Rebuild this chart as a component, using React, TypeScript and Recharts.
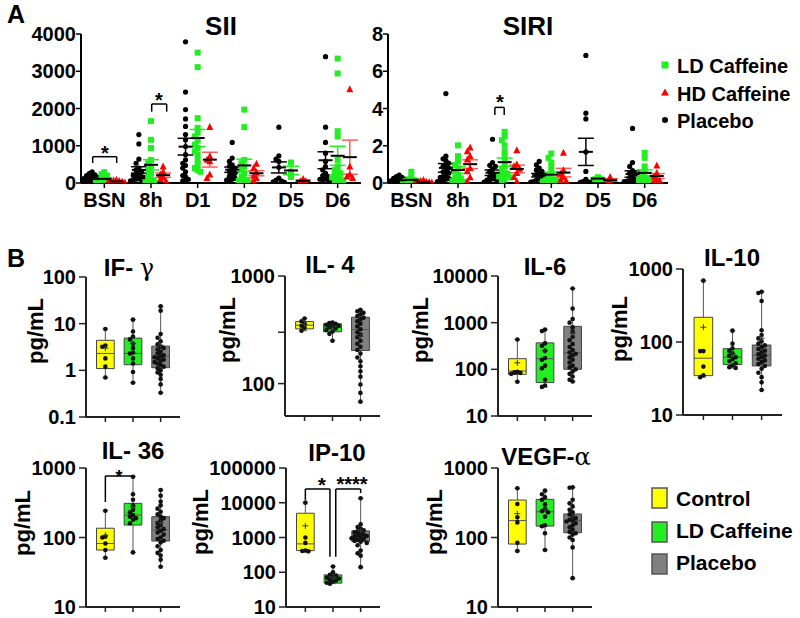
import React from 'react';
import { ScatterChart, Scatter, XAxis, YAxis, ErrorBar, ReferenceLine, ReferenceArea } from 'recharts';

const FONT = '"Liberation Sans", Arial, Helvetica, sans-serif';
const GREEN = '#22ee22';
const RED = '#ff0000';
const YELLOW = '#ffff00';
const GRAY = '#808080';
const AXIS = '#222';

// ---------- panel A: per-timepoint values ----------
const timepoints = ['BSN', '8h', 'D1', 'D2', 'D5', 'D6'];

const siiPlacebo = [
  [300, 260, 220, 200, 180, 150, 130, 120, 100, 90, 80, 70, 60, 50, 40, 30, 20, 15, 10, 5],
  [1300, 1050, 640, 530, 400, 350, 300, 260, 220, 200, 170, 150, 120, 100, 80, 60, 40],
  [3790, 2440, 1970, 1720, 1520, 1300, 1160, 980, 760, 620, 530, 470, 400, 300, 200, 170, 100, 60, 50],
  [1090, 670, 580, 490, 450, 400, 350, 300, 260, 220, 180, 130, 100, 80, 50],
  [1500, 730, 640, 580, 420, 130, 80, 50, 30, 20],
  [3390, 1500, 1090, 800, 580, 440, 350, 260, 200, 170, 120, 100, 80, 50, 30],
];
const siiLD = [
  [290, 240, 200, 150, 100, 80, 60, 40, 30, 20, 10],
  [1660, 1160, 940, 620, 530, 440, 350, 260, 170, 100, 60, 40, 20],
  [3500, 3110, 1740, 1480, 1360, 1250, 1140, 1030, 940, 850, 760, 620, 490, 400, 350, 300],
  [1970, 1500, 620, 530, 440, 350, 260, 170, 100, 80, 60, 30, 20],
  [550, 300, 160],
  [3340, 2940, 1390, 1250, 620, 440, 350, 300, 260, 200, 170, 150, 100, 80, 60, 40],
];
const siiHD = [
  [80, 60, 50, 40, 30, 20, 10],
  [440, 300, 220, 150, 100, 50],
  [1500, 710, 620, 580, 220, 130],
  [510, 400, 280, 190, 130, 60],
  [100, 40, 40],
  [2510, 440, 220, 170, 130],
];

const siriPlacebo = [
  [0.42, 0.35, 0.3, 0.25, 0.2, 0.15, 0.12, 0.1, 0.08, 0.06, 0.05, 0.04, 0.03, 0.02, 0.01],
  [4.8, 1.44, 1.3, 1.2, 1.07, 0.95, 0.89, 0.8, 0.71, 0.6, 0.53, 0.45, 0.35, 0.3, 0.25, 0.2, 0.16, 0.1, 0.07, 0.05],
  [2.35, 1.1, 0.95, 0.89, 0.75, 0.62, 0.5, 0.44, 0.35, 0.25, 0.2, 0.15, 0.1, 0.07, 0.05, 0.05],
  [1.16, 0.98, 0.8, 0.7, 0.62, 0.5, 0.44, 0.35, 0.25, 0.15, 0.1, 0.08, 0.07, 0.05, 0.05],
  [6.85, 3.75, 3.44, 1.67, 0.62, 0.2, 0.07, 0.05, 0.04, 0.03],
  [2.93, 1.1, 0.89, 0.67, 0.55, 0.49, 0.4, 0.31, 0.2, 0.16, 0.1, 0.1, 0.08, 0.07, 0.05, 0.05, 0.03],
];
const siriLD = [
  [0.6, 0.3, 0.2, 0.15, 0.1, 0.08, 0.05, 0.03, 0.02],
  [2.02, 1.44, 1.16, 0.98, 0.8, 0.62, 0.44, 0.3, 0.25, 0.15, 0.1, 0.07],
  [2.75, 2.5, 2.3, 2.02, 1.7, 1.44, 1.16, 0.89, 0.71, 0.53, 0.5, 0.4, 0.35, 0.3, 0.2, 0.16],
  [1.58, 1.35, 1.1, 0.85, 0.56, 0.35, 0.2, 0.16, 0.15, 0.1, 0.1, 0.08, 0.05, 0.05, 0.03],
  [0.31, 0.2, 0.2],
  [1.62, 1.35, 0.89, 0.62, 0.44, 0.3, 0.25, 0.2, 0.16, 0.1, 0.05],
];
const siriHD = [
  [0.15, 0.1, 0.05, 0.04, 0.03, 0.02, 0.01],
  [1.9, 1.7, 1.44, 1.25, 0.8, 0.62, 0.3, 0.07],
  [1.75, 0.98, 0.89, 0.75, 0.53, 0.31, 0.07],
  [1.62, 0.67, 0.49, 0.31, 0.16, 0.1],
  [0.31, 0.07, 0.07],
  [0.93, 0.53, 0.35, 0.2, 0.13, 0.1],
];

// significance brackets: [xLeft, xRight, yTop, yLeftEnd, yRightEnd]
const siiBrackets = [[0.75, 1.265, 706, 537, 537], [2.015, 2.336, 2121, 1914, 1914]];
const siriBrackets = [[2.79, 2.99, 4.06, 3.65, 3.65]];

// ---------- panel B: cytokines (Control, LD Caffeine, Placebo) ----------
const ifgControl = [7.7, 3.4, 3.2, 1.8, 1.2, 0.7];
const ifgLD = [12.2, 6.8, 5.3, 4.6, 3.7, 3.0, 2.4, 2.3, 1.8, 1.4, 0.92, 0.54];
const ifgPlacebo = [23.5, 19, 6, 5, 4.2, 3.6, 3.2, 3, 2.8, 2.5, 2.3, 2.1, 2, 1.9, 1.8, 1.7, 1.6, 1.5, 1.4, 1.3, 1.2, 1.1, 1.0, 0.9, 0.8, 0.65, 0.5, 0.33];
const ifgQuart = [[1.09, 2.3, 4.4], [1.32, 2.3, 4.9], [1.14, 2.0, 3.3]];

const il4Control = [403, 380, 360, 345, 330, 310];
const il4LD = [370, 365, 360, 352, 345, 340, 333, 325, 315, 305, 290, 250];
const il4Placebo = [484, 470, 455, 440, 425, 410, 395, 380, 360, 340, 320, 300, 285, 270, 250, 235, 220, 205, 190, 175, 161, 145, 130, 116, 98, 82, 68];
const il4Quart = [[323, 349, 377], [303, 333, 360], [203, 318, 414]];

const il6Control = [435, 88, 86, 84, 80, 54];
const il6LD = [710, 660, 360, 320, 250, 175, 160, 120, 105, 60, 45, 42];
const il6Placebo = [5400, 2000, 1200, 1000, 800, 650, 500, 420, 350, 300, 260, 230, 215, 200, 180, 160, 140, 120, 110, 100, 90, 80, 70, 60, 55];
const il6Quart = [[78, 92, 169], [52, 169, 369], [100, 226, 835]];

const il10Control = [692, 75, 75, 46, 35, 33];
const il10LD = [143, 95, 82, 76, 70, 65, 62, 58, 55, 51, 48, 45, 44];
const il10Placebo = [489, 470, 364, 145, 125, 112, 102, 95, 90, 85, 80, 76, 72, 68, 65, 62, 59, 56, 53, 50, 47, 43, 38, 33, 28, 22];
const il10Quart = [[34.6, 60, 218], [49, 62, 81], [47, 66, 91]];

const il36Control = [243, 103, 100, 82, 66, 51];
const il36LD = [750, 420, 350, 290, 250, 230, 210, 200, 190, 180, 160, 61];
const il36Placebo = [482, 400, 330, 290, 260, 235, 215, 200, 190, 175, 162, 150, 140, 132, 125, 118, 110, 100, 95, 90, 85, 75, 66, 60, 55, 48, 38];
const il36Quart = [[66, 82, 136], [151, 211, 310], [89, 128, 199]];

const ip10Control = [10070, 1000, 700, 420, 410, 400];
const ip10LD = [146, 100, 85, 80, 75, 70, 66, 62, 58, 54, 50, 47];
const ip10Placebo = [13450, 2400, 2000, 1800, 1600, 1500, 1400, 1300, 1200, 1150, 1100, 1050, 1000, 950, 900, 850, 800, 760, 700, 600, 420, 350, 300, 140];
const ip10Quart = [[420, 655, 4990], [48.6, 67.6, 84], [762, 1188, 1549]];

const vegfControl = [510, 303, 195, 165, 84, 64];
const vegfLD = [472, 420, 380, 350, 300, 260, 240, 230, 200, 150, 145, 115, 66];
const vegfPlacebo = [527, 520, 350, 310, 280, 250, 230, 215, 200, 190, 180, 175, 170, 160, 150, 140, 130, 120, 115, 110, 100, 92, 72, 26];
const vegfQuart = [[80.5, 175, 346], [146, 235, 354], [117, 175, 218]];

const il36Brackets = [[1, 2, 767, 324, 720]];
const ip10Brackets = [[1, 1.89, 24900, 12050, 277], [2.1, 3, 24900, 277, 19100]];

// ---------- helpers ----------
const mean = (a: number[]) => a.reduce((s, v) => s + v, 0) / a.length;
const sem = (a: number[]) => {
  const m = mean(a);
  const sd = Math.sqrt(a.reduce((s, v) => s + (v - m) ** 2, 0) / (a.length - 1));
  return sd / Math.sqrt(a.length);
};

// simple beeswarm: spread points sideways when values are close
function swarm(vals: number[], tol: number, step: number, maxSlot = 6) {
  const placed: { v: number; k: number }[] = [];
  return vals.map((v) => {
    const used = placed.filter((p) => Math.abs(p.v - v) < tol).map((p) => p.k);
    let k = 0;
    while (used.includes(k) && k < maxSlot) k++;
    if (used.includes(k)) k = placed.length % (maxSlot + 1);
    placed.push({ v, k });
    return k === 0 ? 0 : (k % 2 ? -1 : 1) * Math.ceil(k / 2) * step;
  });
}

const dot = (r: number, fill: string) => (p: any) => <circle cx={p.cx} cy={p.cy} r={r} fill={fill} />;
const square = (s: number, fill: string) => (p: any) => (
  <rect x={p.cx - s / 2} y={p.cy - s / 2} width={s} height={s} fill={fill} />
);
const tri = (s: number, fill: string) => (p: any) => (
  <polygon points={`${p.cx},${p.cy - s * 0.6} ${p.cx - s / 2},${p.cy + s * 0.4} ${p.cx + s / 2},${p.cy + s * 0.4}`} fill={fill} />
);
const meanBar = (p: any) => <line x1={p.cx - 7} x2={p.cx + 7} y1={p.cy} y2={p.cy} stroke="#000" strokeWidth={2} />;
const plus = (p: any) => (
  <path d={`M${p.cx - 3},${p.cy}h6M${p.cx},${p.cy - 3}v6`} stroke="#333" strokeWidth={1} />
);

function bracket(b: number[], key: string) {
  const s = { stroke: '#000', strokeWidth: 1.5, ifOverflow: 'visible' as const };
  return [
    <ReferenceLine key={key + 'l'} segment={[{ x: b[0], y: b[3] }, { x: b[0], y: b[2] }]} {...s} />,
    <ReferenceLine key={key + 't'} segment={[{ x: b[0], y: b[2] }, { x: b[1], y: b[2] }]} {...s} />,
    <ReferenceLine key={key + 'r'} segment={[{ x: b[1], y: b[2] }, { x: b[1], y: b[4] }]} {...s} />,
  ];
}

const tickFont = { fill: '#000', fontSize: 20, fontWeight: 700, fontFamily: FONT };

const yTick = (fmt: (v: number) => string) => (p: any) => (
  <text x={p.x} y={p.y} dy={7} textAnchor="end" {...tickFont}>{fmt(p.payload.value)}</text>
);
const timeTick = (p: any) => (
  <text x={p.x} y={p.y} dy={19} textAnchor="middle" {...tickFont}>{timepoints[p.payload.value - 1]}</text>
);

type DotGroup = { series: number[][]; off: number; shape: (p: any) => React.ReactElement; err: string };

function DotPanel({ x0, x1, yMax, yTicks, groups, brackets }: {
  x0: number; x1: number; yMax: number; yTicks: number[]; groups: DotGroup[]; brackets: number[][];
}) {
  const y0 = 34, y1 = 183;
  const W = 80, T = 10, R = 12, H = 30;
  const tol = yMax * 0.03;
  return (
    <div style={{ position: 'absolute', left: x0 - W, top: y0 - T }}>
      <ScatterChart width={W + x1 - x0 + R} height={T + y1 - y0 + H} margin={{ top: T, right: R, bottom: 0, left: 0 }}>
        <XAxis type="number" dataKey="x" domain={[0.5, 6.5]} ticks={[1, 2, 3, 4, 5, 6]} interval={0}
          height={H} allowDataOverflow
          axisLine={{ stroke: '#000', strokeWidth: 2 }} tickLine={{ stroke: '#000', strokeWidth: 1.5 }}
          tickSize={5} tickMargin={0} tick={timeTick} />
        <YAxis type="number" dataKey="y" domain={[0, yMax]} ticks={yTicks} interval={0} width={W} allowDataOverflow
          axisLine={{ stroke: '#000', strokeWidth: 2 }} tickLine={{ stroke: '#000', strokeWidth: 1.5 }}
          tickSize={5} tickMargin={0} tick={yTick((v) => String(v))} />
        {groups.map((g, gi) => (
          <Scatter key={'p' + gi} isAnimationActive={false} shape={g.shape}
            data={g.series.flatMap((vals, i) => {
              const offs = swarm(vals, tol, 0.06);
              return vals.map((v, j) => ({ x: i + 1 + g.off + offs[j], y: v }));
            })} />
        ))}
        {groups.map((g, gi) => (
          <Scatter key={'m' + gi} isAnimationActive={false} shape={meanBar}
            data={g.series.map((vals, i) => ({ x: i + 1 + g.off, y: mean(vals), sem: sem(vals) }))}>
            <ErrorBar dataKey="sem" direction="y" width={8} stroke={g.err} strokeWidth={1.5} isAnimationActive={false} />
          </Scatter>
        ))}
        {brackets.flatMap((b, i) => bracket(b, 'b' + i))}
      </ScatterChart>
    </div>
  );
}

const boxColors = [YELLOW, GREEN, GRAY];

function BoxPanel({ x0, x1, y0, y1, domain, ticks, hide = [], groups, quart, brackets = [] }: {
  x0: number; x1: number; y0: number; y1: number; domain: [number, number]; ticks: number[]; hide?: number[];
  groups: number[][]; quart: number[][]; brackets?: number[][];
}) {
  const W = 80, T = 10, R = 12, H = 20;
  const tol = Math.log10(domain[1] / domain[0]) * 0.028;
  const line = { stroke: '#555', strokeWidth: 1, ifOverflow: 'visible' as const };
  return (
    <div style={{ position: 'absolute', left: x0 - W, top: y0 - T }}>
      <ScatterChart width={W + x1 - x0 + R} height={T + y1 - y0 + H} margin={{ top: T, right: R, bottom: 0, left: 0 }}>
        <XAxis type="number" dataKey="x" domain={[0.3, 3.7]} ticks={[1, 2, 3]} interval={0} tickFormatter={() => ''}
          height={H} allowDataOverflow axisLine={{ stroke: AXIS, strokeWidth: 2 }}
          tickLine={{ stroke: AXIS, strokeWidth: 1.5 }} tickSize={5} tick={tickFont} />
        <YAxis type="number" dataKey="y" scale="log" domain={domain} ticks={ticks} interval={0} width={W} allowDataOverflow
          axisLine={{ stroke: AXIS, strokeWidth: 2 }} tickLine={{ stroke: AXIS, strokeWidth: 1.5 }}
          tickSize={7} tickMargin={3} tick={yTick((v) => (hide.includes(v) ? '' : String(v)))} />
        {groups.flatMap((vals, i) => {
          const c = i + 1;
          const [q1, med, q3] = quart[i];
          const lo = Math.min(...vals), hi = Math.max(...vals);
          return [
            <ReferenceLine key={'wu' + i} segment={[{ x: c, y: q3 }, { x: c, y: hi }]} {...line} />,
            <ReferenceLine key={'wd' + i} segment={[{ x: c, y: lo }, { x: c, y: q1 }]} {...line} />,
            <ReferenceLine key={'cu' + i} segment={[{ x: c - 0.1, y: hi }, { x: c + 0.1, y: hi }]} {...line} />,
            <ReferenceLine key={'cd' + i} segment={[{ x: c - 0.1, y: lo }, { x: c + 0.1, y: lo }]} {...line} />,
            <ReferenceArea key={'bx' + i} x1={c - 0.32} x2={c + 0.32} y1={q1} y2={q3} fill={boxColors[i]} fillOpacity={1}
              stroke="#444" strokeWidth={1} ifOverflow="visible" />,
            <ReferenceLine key={'md' + i} segment={[{ x: c - 0.32, y: med }, { x: c + 0.32, y: med }]} {...line} />,
          ];
        })}
        {groups.map((vals, i) => {
          const offs = swarm(vals.map((v) => Math.log10(v)), tol, 0.11);
          return (
            <Scatter key={'p' + i} isAnimationActive={false} shape={dot(2.3, '#111')}
              data={vals.map((v, j) => ({ x: i + 1 + offs[j], y: v }))} />
          );
        })}
        {groups.map((vals, i) => (
          <Scatter key={'m' + i} isAnimationActive={false} shape={plus} data={[{ x: i + 1, y: mean(vals) }]} />
        ))}
        {brackets.flatMap((b, i) => bracket(b, 'b' + i))}
      </ScatterChart>
    </div>
  );
}

const tx = { fontFamily: FONT, fontWeight: 700, fill: '#000' } as const;
const greek = { fontFamily: '"DejaVu Serif", serif', fontWeight: 400 } as const;

function YLabel({ x, y }: { x: number; y: number }) {
  return (
    <text {...tx} fontSize={22} textAnchor="middle" transform={`translate(${x},${y}) rotate(-90)`}>pg/mL</text>
  );
}

export default function App() {
  const dotGroups = (p: number[][], ld: number[][], hd: number[][]): DotGroup[] => [
    { series: p, off: -0.26, shape: dot(2.6, '#000'), err: '#000' },
    { series: ld, off: 0, shape: square(6, GREEN), err: GREEN },
    { series: hd, off: 0.26, shape: tri(7, RED), err: '#ff5a5a' },
  ];
  return (
    <div style={{ position: 'absolute', left: 0, top: 0, width: 800, height: 618, background: '#fff', overflow: 'hidden' }}>
      <DotPanel x0={81} x1={361} yMax={4000} yTicks={[0, 1000, 2000, 3000, 4000]}
        groups={dotGroups(siiPlacebo, siiLD, siiHD)} brackets={siiBrackets} />
      <DotPanel x0={388} x1={668} yMax={8} yTicks={[0, 2, 4, 6, 8]}
        groups={dotGroups(siriPlacebo, siriLD, siriHD)} brackets={siriBrackets} />

      <BoxPanel x0={86} x1={180} y0={277} y1={417} domain={[0.1, 100]} ticks={[0.1, 1, 10, 100]}
        groups={[ifgControl, ifgLD, ifgPlacebo]} quart={ifgQuart} />
      <BoxPanel x0={285} x1={380} y0={276} y1={416} domain={[50, 1000]} ticks={[100, 300, 1000]} hide={[300]}
        groups={[il4Control, il4LD, il4Placebo]} quart={il4Quart} />
      <BoxPanel x0={498} x1={592} y0={276} y1={416} domain={[10, 10000]} ticks={[10, 100, 1000, 10000]}
        groups={[il6Control, il6LD, il6Placebo]} quart={il6Quart} />
      <BoxPanel x0={683} x1={782} y0={269} y1={415} domain={[10, 1000]} ticks={[10, 100, 1000]}
        groups={[il10Control, il10LD, il10Placebo]} quart={il10Quart} />
      <BoxPanel x0={86} x1={180} y0={468} y1={607} domain={[10, 1000]} ticks={[10, 100, 1000]}
        groups={[il36Control, il36LD, il36Placebo]} quart={il36Quart} brackets={il36Brackets} />
      <BoxPanel x0={286} x1={380} y0={468} y1={607} domain={[10, 100000]} ticks={[10, 100, 1000, 10000, 100000]}
        groups={[ip10Control, ip10LD, ip10Placebo]} quart={ip10Quart} brackets={ip10Brackets} />
      <BoxPanel x0={498} x1={592} y0={468} y1={607} domain={[10, 1000]} ticks={[10, 100, 1000]}
        groups={[vegfControl, vegfLD, vegfPlacebo]} quart={vegfQuart} />

      <svg width={800} height={618} style={{ position: 'absolute', left: 0, top: 0, pointerEvents: 'none' }}>
        <text {...tx} x={7} y={23} fontSize={25}>A</text>
        <text {...tx} x={7} y={267} fontSize={25}>B</text>
        <text {...tx} x={221} y={35} fontSize={26} textAnchor="middle">SII</text>
        <text {...tx} x={528} y={35} fontSize={26} textAnchor="middle">SIRI</text>

        <text {...tx} x={105} y={160} fontSize={20} textAnchor="middle">*</text>
        <text {...tx} x={159} y={107} fontSize={20} textAnchor="middle">*</text>
        <text {...tx} x={500} y={109} fontSize={20} textAnchor="middle">*</text>
        <text {...tx} x={119} y={483} fontSize={18} textAnchor="middle">*</text>
        <text {...tx} x={322} y={492} fontSize={20} textAnchor="middle">*</text>
        <text {...tx} x={352} y={491} fontSize={20} textAnchor="middle">****</text>

        <rect x={661.5} y={61.5} width={7} height={7} fill={GREEN} />
        <polygon points="665,88.5 661,95.5 669,95.5" fill={RED} />
        <circle cx={665} cy={120} r={3} fill="#000" />
        <text {...tx} x={677} y={73} fontSize={20}>LD Caffeine</text>
        <text {...tx} x={677} y={101} fontSize={20}>HD Caffeine</text>
        <text {...tx} x={677} y={128} fontSize={20}>Placebo</text>

        <text {...tx} x={129} y={276} fontSize={24} textAnchor="middle">IF- <tspan {...greek}>γ</tspan></text>
        <text {...tx} x={330} y={273} fontSize={24} textAnchor="middle">IL- 4</text>
        <text {...tx} x={545} y={275} fontSize={24} textAnchor="middle">IL-6</text>
        <text {...tx} x={732} y={266} fontSize={24} textAnchor="middle">IL-10</text>
        <text {...tx} x={133} y={459} fontSize={24} textAnchor="middle">IL- 36</text>
        <text {...tx} x={337} y={461} fontSize={24} textAnchor="middle">IP-10</text>
        <text {...tx} x={546} y={465} fontSize={24} textAnchor="middle">VEGF-<tspan {...greek}>α</tspan></text>

        <YLabel x={43} y={331} />
        <YLabel x={235} y={330} />
        <YLabel x={428} y={330} />
        <YLabel x={627} y={329} />
        <YLabel x={30} y={523} />
        <YLabel x={208} y={522} />
        <YLabel x={442} y={522} />

        <rect x={652} y={488} width={15} height={20} fill={YELLOW} stroke="#555" strokeWidth={1.5} />
        <rect x={652} y={522} width={15} height={20} fill={GREEN} stroke="#555" strokeWidth={1.5} />
        <rect x={652} y={554} width={15} height={20} fill={GRAY} stroke="#555" strokeWidth={1.5} />
        <text {...tx} x={676} y={506} fontSize={21}>Control</text>
        <text {...tx} x={676} y={538} fontSize={21}>LD Caffeine</text>
        <text {...tx} x={676} y={570} fontSize={21}>Placebo</text>
      </svg>
    </div>
  );
}
